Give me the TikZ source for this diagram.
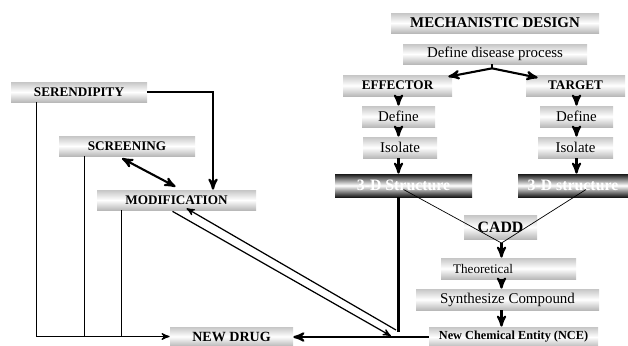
\documentclass[tikz,border=0pt]{standalone}
\usepackage{fontspec}
\setmainfont{Liberation Serif}
\usetikzlibrary{arrows,calc}

\tikzset{
  wd/.style={minimum width=#1*0.02cm},
  ht/.style={minimum height=#1*0.02cm},
  box/.style={inner sep=0pt,ht=20,top color=gray!45,bottom color=gray!55,middle color=white,font=\fontsize{8.5}{10}\selectfont},
  capbox/.style={box,font=\bfseries\fontsize{7.5}{9}\selectfont},
  darkbox/.style={inner sep=0pt,ht=23,top color=black!90,bottom color=black!90,middle color=white,text=white,font=\bfseries\fontsize{9}{10}\selectfont},
  lite/.style={line width=0.7pt},
  heavy/.style={line width=1.2pt}
}

\begin{document}
\begin{tikzpicture}[x=0.02cm,y=-0.02cm,>=stealth']
\useasboundingbox (0,0) rectangle (628,345);
\clip (0,0) rectangle (628,345);

    % mechanistic side
    \node[capbox,wd=208,font=\bfseries\fontsize{8.5}{10}\selectfont] (mech) at (495,23) {MECHANISTIC DESIGN};
    \node[box,wd=184] (disease) at (495,54) {Define disease process};
    \node[capbox,wd=109,ht=21] (effector) at (397.5,85.5) {EFFECTOR};
    \node[capbox,wd=99,ht=21] (target) at (575.5,85.5) {TARGET};
    \node[box,wd=73,ht=21] (defL) at (398.5,116.5) {Define};
    \node[box,wd=74,ht=21] (isoL) at (400,147.5) {Isolate};
    \node[darkbox,wd=137] (strL) at (403.5,185.5) {3-D Structure};
    \node[box,wd=73,ht=21] (defR) at (576.5,116.5) {Define};
    \node[box,wd=75,ht=21] (isoR) at (575.5,147.5) {Isolate};
    \node[darkbox,wd=110] (strR) at (573,185.5) {3-D structure};
    \node[capbox,wd=73,ht=24,font=\bfseries\fontsize{9}{10}\selectfont] (cadd) at (500.5,227) {CADD};
    \node[box,wd=135,ht=21,text width=2.22cm,align=left,inner xsep=0.24cm,font=\fontsize{7.5}{9}\selectfont] (theo) at (508.5,268.5) {Theoretical};
    \node[box,wd=183,ht=21] (synth) at (507.5,299.5) {Synthesize Compound};
    \node[capbox,wd=169,font=\bfseries\fontsize{7}{8}\selectfont] (nce) at (513.5,337) {New Chemical Entity (NCE)};

    % traditional side
    \node[capbox,wd=136] (seren) at (79,92) {SERENDIPITY};
    \node[capbox,wd=136] (screen) at (127,146) {SCREENING};
    \node[capbox,wd=159] (modif) at (176.5,200) {MODIFICATION};
    \node[capbox,wd=123,ht=19,font=\bfseries\fontsize{8}{9}\selectfont] (newdrug) at (231.5,336.5) {NEW DRUG};

    % fork
    \coordinate (fork) at ($(disease.south)+(-3,4)$);
    \draw[heavy] (disease.south -| fork) -- (fork);
    \draw[heavy,->] (fork) -- ($(effector.north east)+(-4,2)$);
    \draw[heavy,->] (fork) -- ($(target.north west)+(12,3)$);

    % two chains
    \draw[heavy,->] (effector.south -| defL) -- (defL.north);
    \draw[heavy,->] (defL.south) -- (defL.south |- isoL.north);
    \draw[heavy,->] (defL.south |- isoL.south) -- (defL.south |- strL.north);
    \draw[heavy,->] (target.south -| defR) -- (defR.north);
    \draw[heavy,->] (defR.south) -- (defR.south |- isoR.north);
    \draw[heavy,->] (defR.south |- isoR.south) -- (defR.south |- strR.north);

    % into CADD and down
    \coordinate (vtx) at (501.5,243);
    \draw[line width=0.4pt] ($(strL.center)+(0,4)$) -- (vtx) -- ($(strR.center)+(13,4)$);
    \draw[heavy,->] (vtx) -- (vtx |- theo.north);
    \draw[heavy,->] (vtx |- theo.south) -- (vtx |- synth.north);
    \draw[heavy,->] (vtx |- synth.south) -- (vtx |- nce.north);

    % bottom links
    \coordinate (drop) at ($(strL.south)+(-5,135)$);
    \draw[heavy] (drop |- strL.south) -- (drop);
    \draw[heavy,->] (nce.west) -- (nce.west -| newdrug.east);
    \coordinate (dA) at (391,336);
    \coordinate (dB) at (396,330);
    \draw[lite,->] ($(modif.south)+(-4,1)$) -- (dA);
    \draw[lite,->] (dB) -- ($(modif.south)+(10,-2)$);

    % left side
    \coordinate (c0) at ($(seren.south west)+(26,0)$);
    \coordinate (c1) at ($(screen.south west)+(26,0)$);
    \coordinate (c2) at ($(modif.south west)+(25,0)$);
    \draw[lite,->] (c0) |- (newdrug.west);
    \draw[lite] (c1) -- (c1 |- newdrug.west);
    \draw[lite] (c2) -- (c2 |- newdrug.west);
    \coordinate (mtop) at ($(modif.north)+(36.5,0)$);
    \draw[heavy,->] (seren.east) -| (mtop);
    \draw[heavy,<->] ($(screen.south)+(-5,2)$) -- ($(modif.north)+(-1,-3)$);
\end{tikzpicture}
\end{document}
